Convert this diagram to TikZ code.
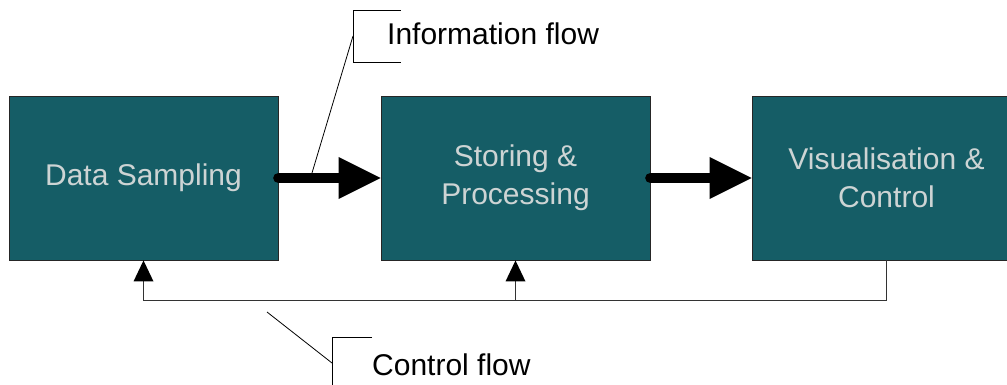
\documentclass[tikz,border=0pt]{standalone}
\usepackage{fontspec}
\setmainfont{Liberation Sans}
\usetikzlibrary{arrows.meta}
\definecolor{boxfill}{HTML}{155D66}
\definecolor{boxtext}{HTML}{CDD4D4}
\definecolor{fbline}{HTML}{333333}
\tikzset{
  stagebox/.style={draw=black!85, line width=0.9pt, fill=boxfill, text=boxtext,
    minimum width=269pt, minimum height=164pt, inner sep=0pt, align=center,
    font=\fontsize{30pt}{38pt}\selectfont},
  flowarrow/.style={line width=10.6pt, line cap=round,
    -{Triangle[length=42pt,width=42pt,line width=0pt]}},
  fbarrow/.style={draw=fbline, line width=1.3pt,
    -{Triangle[length=21pt,width=20pt,line width=0pt,color=black,fill=black]}},
  callout/.style={draw=black, line width=0.8pt},
  lbl/.style={font=\fontsize{30pt}{36pt}\selectfont, inner sep=0pt, anchor=base west}
}
\begin{document}
\begin{tikzpicture}[x=1pt,y=-1pt]
\useasboundingbox (0,0) rectangle (1007,385);
\node[stagebox] (d) at (143.5,178) {Data Sampling};
\node[stagebox] (s) at (515.5,178) {Storing \&\\Processing};
\node[stagebox] (v) at (886.5,178) {Visualisation \&\\Control};
\draw[flowarrow] (d.east) -- (s.west);
\draw[flowarrow] (s.east) -- (v.west);
% feedback
\coordinate (fbl) at (0,300.7);
\draw[fbarrow] (v.south) -- (v.south |- fbl) -| (d.south);
\draw[fbarrow] (s.south |- fbl) -- (s.south);
% information flow callout
\coordinate (ib1) at (400.7,10.7);
\coordinate (ib2) at (353,10.7);
\coordinate (ib3) at (353,62);
\coordinate (ib4) at (400.7,62);
\coordinate (im) at (353,36);
\coordinate (ip) at (312,173);
\draw[callout] (ib1) -- (ib2) -- (ib3) -- (ib4);
\draw[callout] (im) -- (ip);
\node[lbl] (il) at (387,45) {Information flow};
% control flow callout
\coordinate (cb1) at (372,337);
\coordinate (cb2) at (332,337);
\coordinate (cb3) at (332,386);
\coordinate (cm) at (332,363);
\coordinate (cp) at (267,312);
\draw[callout] (cb1) -- (cb2) -- (cb3);
\draw[callout] (cm) -- (cp);
\node[lbl] (cl) at (372,375) {Control flow};
\end{tikzpicture}
\end{document}
